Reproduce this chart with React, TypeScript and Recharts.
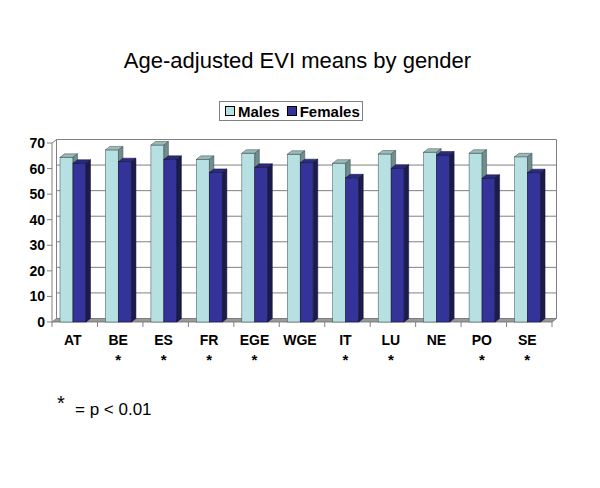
import React from 'react';
import { BarChart, Bar, XAxis, YAxis, CartesianGrid } from 'recharts';

const countries = ['AT', 'BE', 'ES', 'FR', 'EGE', 'WGE', 'IT', 'LU', 'NE', 'PO', 'SE'];
const males = [64.4, 67.3, 69.2, 63.6, 66.0, 65.6, 62.1, 65.7, 66.4, 66.0, 64.6];
const females = [62.1, 62.7, 63.6, 58.5, 60.5, 62.3, 56.4, 60.1, 65.3, 56.2, 58.4];
const significant = [false, true, true, true, true, false, true, true, false, true, true];
const yTicks = [0, 10, 20, 30, 40, 50, 60, 70];
const seriesNames = ['Males', 'Females'];
const seriesColors = ['#B7E0E3', '#333399'];

const data = countries.map((c, i) => ({ name: c, Males: males[i], Females: females[i] }));

const W = 600;
const H = 488;
const M = { top: 143, right: 48, bottom: 116, left: 0 };
const Y_W = 52;
const X_H = 50;
const PLOT_LEFT = M.left + Y_W;
const PLOT_RIGHT = W - M.right;
const PLOT_TOP = M.top;
const PLOT_BOTTOM = H - M.bottom - X_H;
const BAND = (PLOT_RIGHT - PLOT_LEFT) / countries.length;
const DX = 4.5;
const DY = 3.5;
const SHIFT = -2;
const FONT = '"Liberation Sans", Arial, Helvetica, sans-serif';
const GRID = '#808080';

const make3D = (front: string, top: string, side: string, edge: string) => (props: any) => {
  const { x, y, width, height } = props;
  if (width == null || height == null) return null;
  const X = x + SHIFT;
  const b = y + height;
  return (
    <g>
      <rect x={X} y={y} width={width} height={height} fill={front} stroke={edge} strokeWidth={0.5} />
      <polygon
        points={`${X},${y} ${X + DX},${y - DY} ${X + width + DX},${y - DY} ${X + width},${y}`}
        fill={top}
        stroke={edge}
        strokeWidth={0.5}
      />
      <polygon
        points={`${X + width},${y} ${X + width + DX},${y - DY} ${X + width + DX},${b - DY} ${X + width},${b}`}
        fill={side}
        stroke={edge}
        strokeWidth={0.5}
      />
    </g>
  );
};

const MaleShape = make3D('#B7E0E3', '#9DBABA', '#6F8D8D', '#3A4A4A');
const FemaleShape = make3D('#333399', '#2B2B80', '#1B1B4C', '#10102A');

const gridLine = (props: any) => {
  const { x1, x2, y1, index } = props;
  const key = `g-${index}-${y1}`;
  if (Math.abs(y1 - PLOT_BOTTOM) < 0.5) {
    return (
      <g key={key}>
        <line x1={x1 + DX} y1={PLOT_TOP - DY} x2={x1 + DX} y2={PLOT_BOTTOM - DY} stroke={GRID} strokeWidth={1} />
        <line x1={x2 + DX} y1={PLOT_TOP - DY} x2={x2 + DX} y2={PLOT_BOTTOM - DY} stroke={GRID} strokeWidth={1} />
        <line x1={x1} y1={PLOT_TOP} x2={x1 + DX} y2={PLOT_TOP - DY} stroke={GRID} strokeWidth={1} />
        <polygon
          points={`${x1},${y1} ${x2},${y1} ${x2 + DX},${y1 - DY} ${x1 + DX},${y1 - DY}`}
          fill="#9A9A9A"
          stroke="#6A6A6A"
          strokeWidth={0.8}
        />
      </g>
    );
  }
  return <line key={key} x1={x1 + DX} y1={y1 - DY} x2={x2 + DX} y2={y1 - DY} stroke={GRID} strokeWidth={1} />;
};

const XTick = (props: any) => {
  const { x, payload, index } = props;
  const cx = x + SHIFT;
  const last = index === countries.length - 1;
  return (
    <g>
      <line x1={x - BAND / 2} y1={PLOT_BOTTOM} x2={x - BAND / 2} y2={PLOT_BOTTOM + 5} stroke={GRID} />
      {last && (
        <line x1={x + BAND / 2} y1={PLOT_BOTTOM} x2={x + BAND / 2} y2={PLOT_BOTTOM + 5} stroke={GRID} />
      )}
      <text x={cx} y={PLOT_BOTTOM + 23} textAnchor="middle" fontFamily={FONT} fontWeight="bold" fontSize={14} fill="#000">
        {payload.value}
      </text>
      {significant[index] && (
        <text x={cx} y={PLOT_BOTTOM + 43} textAnchor="middle" fontFamily={FONT} fontWeight="bold" fontSize={15} fill="#000">
          *
        </text>
      )}
    </g>
  );
};

const LegendBox = () => (
  <div
    style={{
      position: 'absolute',
      left: 219,
      top: 101,
      border: '1px solid #808080',
      width: 144,
      height: 20,
      boxSizing: 'border-box',
      display: 'flex',
      alignItems: 'center',
      fontFamily: FONT,
      fontWeight: 'bold',
      fontSize: 15,
      color: '#000',
      background: '#fff',
    }}
  >
    {seriesNames.map((n, i) => (
      <React.Fragment key={n}>
        <span
          style={{
            display: 'inline-block',
            width: 8,
            height: 8,
            background: seriesColors[i],
            border: '1px solid #000',
            marginLeft: i === 0 ? 5 : 7,
            marginRight: 3,
          }}
        />
        <span>{n}</span>
      </React.Fragment>
    ))}
  </div>
);

export default function App() {
  return (
    <div style={{ position: 'absolute', left: 0, top: 0, width: W, height: H, background: '#fff' }}>
      <BarChart width={W} height={H} data={data} margin={M} barGap={0} barSize={13}>
        <CartesianGrid vertical={false} horizontal={gridLine} stroke={GRID} />
        <XAxis dataKey="name" axisLine={false} tickLine={false} tick={XTick} interval={0} height={X_H} />
        <YAxis
          width={Y_W}
          domain={[0, 70]}
          ticks={yTicks}
          interval={0}
          axisLine={{ stroke: GRID }}
          tickLine={{ stroke: GRID }}
          tickSize={5}
          tickMargin={2}
          tick={{ fontFamily: FONT, fontWeight: 'bold', fontSize: 14, fill: '#000' }}
        />
        <Bar dataKey="Males" shape={MaleShape} isAnimationActive={false} />
        <Bar dataKey="Females" shape={FemaleShape} isAnimationActive={false} />
      </BarChart>
      <LegendBox />
      <svg width={W} height={H} style={{ position: 'absolute', left: 0, top: 0, pointerEvents: 'none' }}>
        <text x={297.5} y={68} textAnchor="middle" fontFamily={FONT} fontSize={22} fill="#000">
          Age-adjusted EVI means by gender
        </text>
        <text x={57} y={410} fontFamily={FONT} fontSize={20} fill="#000">*</text>
        <text x={75} y={415} fontFamily={FONT} fontSize={17} fill="#000">= p &lt; 0.01</text>
      </svg>
    </div>
  );
}
